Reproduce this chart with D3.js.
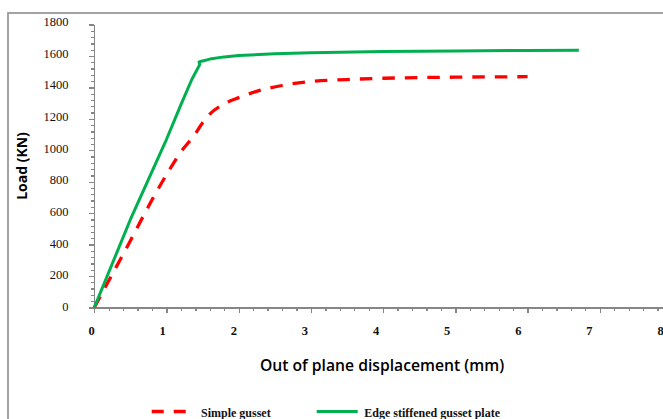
<!DOCTYPE html>
<html>
<head>
<meta charset="utf-8">
<script src="https://cdn.jsdelivr.net/npm/d3@7/dist/d3.min.js"></script>
<style>
  body { margin: 0; background: #fff; overflow: hidden; }
  svg { display: block; }
  .axis path, .axis line { stroke: #868686; stroke-width: 1.3; shape-rendering: crispEdges; }
  .tick-label { font-family: "Liberation Serif", "Times New Roman", serif; font-size: 12.5px; fill: #111; }
</style>
</head>
<body>
<div id="chart"></div>
<script>
// data
const xTicks = [0, 1, 2, 3, 4, 5, 6, 7, 8];
const yTicks = [0, 200, 400, 600, 800, 1000, 1200, 1400, 1600, 1800];

const simpleX = [0, 0.2, 0.5, 0.8, 1.0, 1.2, 1.4, 1.5, 1.6, 1.8, 2.0, 2.25, 2.6, 3.0, 3.5, 4.0, 5.0, 6.0];
const simpleY = [0, 170, 425, 685, 845, 990, 1105, 1175, 1230, 1295, 1335, 1375, 1412, 1438, 1450, 1458, 1465, 1468];

const edgeX = [0, 0.5, 1.0, 1.2, 1.35, 1.46, 1.45, 1.5, 1.6, 1.8, 2.0, 2.5, 3.0, 4.0, 5.0, 6.0, 6.71];
const edgeY = [0, 560, 1070, 1290, 1450, 1545, 1562, 1568, 1580, 1594, 1603, 1614, 1621, 1628, 1632, 1635, 1637];

const seriesNames = ['Simple gusset', 'Edge stiffened gusset plate'];

const width = 663, height = 419;

const svg = d3.select('#chart')
  .append('svg')
  .attr('width', width)
  .attr('height', height);

// outer chart frame (runs off right and bottom edge)
svg.append('rect')
  .attr('x', 8).attr('y', 13)
  .attr('width', 700).attr('height', 500)
  .attr('fill', 'none')
  .attr('stroke', '#9a9a9a')
  .attr('stroke-width', 1.8);

const x = d3.scaleLinear().domain([0, 8]).range([94.3, 672]);
const y = d3.scaleLinear().domain([0, 1800]).range([307.5, 24.5]);

// label positions drift slightly from the tick positions in the original
const xLab = d3.scaleLinear().domain([0, 8]).range([91.5, 660.5]);
const yLab = d3.scaleLinear().domain([0, 1800]).range([306.5, 21.7]);

// x axis: minor then major ticks
svg.append('g')
  .attr('class', 'axis')
  .attr('transform', `translate(0,${y(0)})`)
  .call(d3.axisBottom(x).tickValues(d3.range(0, 8.01, 0.2)).tickSize(3).tickSizeOuter(0).tickFormat(''));
svg.append('g')
  .attr('class', 'axis')
  .attr('transform', `translate(0,${y(0)})`)
  .call(d3.axisBottom(x).tickValues(xTicks).tickSize(5).tickSizeOuter(0).tickFormat(''));

// y axis
svg.append('g')
  .attr('class', 'axis')
  .attr('transform', `translate(${x(0)},0)`)
  .call(d3.axisLeft(y).tickValues(d3.range(0, 1801, 40)).tickSize(3).tickSizeOuter(0).tickFormat(''));
svg.append('g')
  .attr('class', 'axis')
  .attr('transform', `translate(${x(0)},0)`)
  .call(d3.axisLeft(y).tickValues(yTicks).tickSize(5).tickSizeOuter(0).tickFormat(''));

// tick labels
svg.append('g').selectAll('text')
  .data(xTicks)
  .join('text')
  .attr('class', 'tick-label')
  .attr('x', (d) => xLab(d))
  .attr('y', 331)
  .attr('dy', '0.35em')
  .attr('text-anchor', 'middle')
  .style('font-weight', 'bold')
  .text((d) => d);

svg.append('g').selectAll('text')
  .data(yTicks)
  .join('text')
  .attr('class', 'tick-label')
  .attr('x', 68.5)
  .attr('y', (d) => yLab(d))
  .attr('dy', '0.35em')
  .attr('text-anchor', 'end')
  .text((d) => d);

// axis titles
svg.append('text')
  .attr('transform', 'translate(22,166) rotate(-90)')
  .attr('text-anchor', 'middle')
  .attr('dy', '0.35em')
  .style('font-family', '"Open Sans", sans-serif')
  .style('font-weight', 'bold')
  .style('font-size', '14px')
  .text('Load (KN)');

svg.append('text')
  .attr('x', 382)
  .attr('y', 366)
  .attr('dy', '0.35em')
  .attr('text-anchor', 'middle')
  .style('font-family', '"Open Sans", sans-serif')
  .style('font-weight', '600')
  .style('font-size', '15.7px')
  .text('Out of plane displacement (mm)');

// series lines
const smooth = d3.line()
  .x((d) => x(d[0]))
  .y((d) => y(d[1]))
  .curve(d3.curveMonotoneX);
const straight = d3.line()
  .x((d) => x(d[0]))
  .y((d) => y(d[1]));

svg.append('path')
  .datum(simpleX.map((v, i) => [v, simpleY[i]]))
  .attr('d', smooth)
  .attr('fill', 'none')
  .attr('stroke', '#ff0000')
  .attr('stroke-width', 3.3)
  .attr('stroke-dasharray', '12.5,10');

svg.append('path')
  .datum(edgeX.map((v, i) => [v, edgeY[i]]))
  .attr('d', straight)
  .attr('fill', 'none')
  .attr('stroke', '#00b050')
  .attr('stroke-width', 3)
  .attr('stroke-linejoin', 'round');

// legend
const legend = svg.append('g').attr('transform', 'translate(0,411.5)');
legend.append('line')
  .attr('x1', 151.7).attr('x2', 187)
  .attr('stroke', '#ff0000').attr('stroke-width', 3.3)
  .attr('stroke-dasharray', '12,10');
legend.append('line')
  .attr('x1', 316.7).attr('x2', 357.7)
  .attr('stroke', '#00b050').attr('stroke-width', 3);
legend.selectAll('text')
  .data(seriesNames)
  .join('text')
  .attr('x', (d, i) => i === 0 ? 201 : 364.3)
  .attr('y', 5)
  .style('font-family', '"Liberation Serif", "Times New Roman", serif')
  .style('font-weight', 'bold')
  .style('font-size', '12px')
  .style('fill', '#111')
  .text((d) => d);
</script>
</body>
</html>
